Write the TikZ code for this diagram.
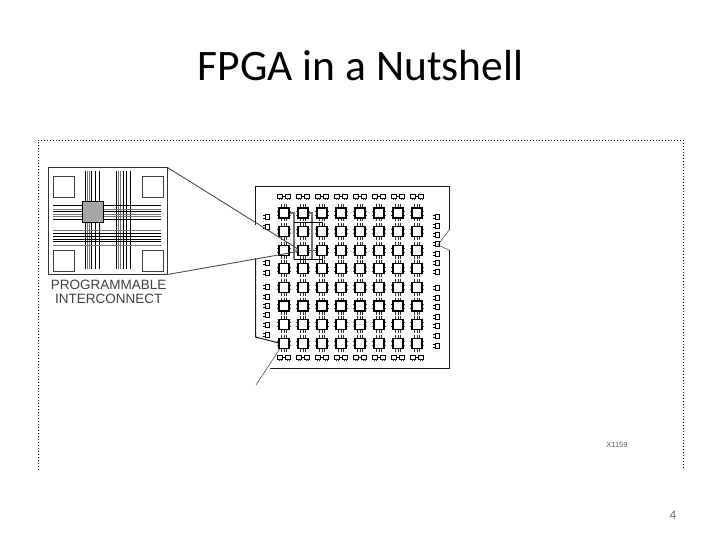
\documentclass[tikz,border=0pt]{standalone}
\usepackage{fontspec}
\setmainfont{Carlito}
\newfontfamily\labelfont{Liberation Sans}
\definecolor{wiregray}{gray}{0.45}
\tikzset{
  frameline/.style={line width=0.9pt, dash pattern=on 1.3pt off 1.7pt},
  outline/.style={line width=1pt, black!90},
  leader/.style={line width=0.9pt, black!70},
  cornerbox/.style={draw=black!75, line width=0.9pt, minimum size=21pt, inner sep=0pt},
  clbbox/.style={draw, line width=1.1pt, fill=white, minimum size=10pt, inner sep=0pt},
  route/.style={line width=1.2pt, wiregray},
  routeb/.style={line width=1pt, black},
  pics/clbpins/.style={code={
    \foreach \d in {-2.4,0,2.4} {
      \draw[line width=0.8pt, black!80] (\d,-8.5) -- (\d,-5);
      \draw[line width=0.8pt, black!80] (\d,5) -- (\d,8.5);
    }
    \draw[line width=0.6pt, black!70] (-7,-2) -- (-5,-2) (-7,2) -- (-5,2);
    \draw[line width=0.6pt, black!70] (5,-2) -- (7,-2) (5,2) -- (7,2);
  }},
  pics/iobpair/.style={code={
    \draw[line width=1pt] (-6.5,-2.4) rectangle (-1.5,1.2);
    \draw[line width=1pt] (1.5,-2.4) rectangle (6.5,1.2);
    \draw[line width=1pt] (-1.5,-0.5) -- (1.5,-0.5);
    \draw[line width=0.6pt, black!80] (-5,1.2) -- (-5,3.2) (-3,1.2) -- (-3,3.2) (3,1.2) -- (3,3.2) (5,1.2) -- (5,3.2);
  }},
  pics/iobside/.style={code={
    \draw[line width=1pt] (-0.8,-2.2) rectangle (2.6,2.2);
    \draw[line width=1.2pt] (-0.8,-3.4) -- (-0.8,3.4);
    \draw[line width=0.7pt] (-3.2,-1.2) -- (-0.8,-1.2) (-3.2,1.2) -- (-0.8,1.2);
  }},
}
\begin{document}
\begin{tikzpicture}[x=1pt, y=-1pt]
  \useasboundingbox (0,0) rectangle (720,540);
  \node[font=\fontsize{43.5}{46}\selectfont] (title) at (360.5,66) {FPGA in a Nutshell};
  % Dotted frame, open at the bottom
  \coordinate (frameA) at (38,470);
  \coordinate (frameB) at (38,140);
  \coordinate (frameC) at (683,140);
  \coordinate (frameD) at (683,470);
  \draw[frameline] (frameA) -- (frameB) -- (frameC) -- (frameD);
  % Interconnect inset
  \node[draw=black!80, line width=1pt, minimum width=119pt, minimum height=106pt, inner sep=0pt] (inset) at (107.5,221) {};
  \foreach \x/\c in {85/black,87.3/wiregray,89.3/wiregray,91.3/black,95.3/black,99.7/black,
                     116/black,118.3/wiregray,120.3/wiregray,123/black,126.3/black,130.7/black} {
    \draw[line width=0.8pt, \c] (\x,171) -- (\x,269);
  }
  \foreach \y/\c in {205/black,209.3/wiregray,211.7/black,214/wiregray,216.7/wiregray,219/black,
                     230.3/wiregray,233.3/black,236/black,239/black,241.7/black,245/wiregray} {
    \draw[line width=0.8pt, \c] (53,\y) -- (161,\y);
  }
  \foreach \n/\x/\y in {nw/64/186.5,ne/153/186.5,sw/64/261,se/153/261} {
    \node[cornerbox] (corner\n) at (\x,\y) {};
  }
  \node[draw, line width=1pt, fill=black!35, minimum size=21pt, inner sep=0pt] (switch) at (92.5,212.5) {};
  \node[font=\labelfont\fontsize{13.5}{14.2}\selectfont, text=black!75, align=center, inner sep=0pt] (prog) at (108.7,291.5) {PROGRAMMABLE\\INTERCONNECT};
  % Chip outline
  \coordinate (chipA) at (255.5,225);
  \coordinate (chipB) at (255.5,187);
  \coordinate (chipC) at (449,187);
  \coordinate (chipD) at (449,230);
  \coordinate (chipE) at (438,245);
  \coordinate (chipF) at (449,250);
  \coordinate (chipG) at (449,368);
  \coordinate (chipH) at (270,368);
  \coordinate (chipI) at (255.5,258);
  \coordinate (chipJ) at (255.5,337);
  \coordinate (chipK) at (283,344);
  \coordinate (chipL) at (256,385);
  \draw[outline] (chipA) -- (chipB) -- (chipC) -- (chipD);
  \draw[line width=0.6pt, black!70] (chipD) -- (chipE) -- (chipF);
  \draw[outline] (chipF) -- (chipG) -- (chipH);
  \draw[outline] (chipI) -- (chipJ) -- (chipK);
  \draw[line width=0.7pt, black!60] (chipK) -- (chipL);
  % Logic blocks
  \foreach \c [evaluate=\c as \x using {284+19*(\c-1)}] in {1,...,8} {
    \foreach \r [evaluate=\r as \y using {213+18.6*(\r-1)}] in {1,...,8} {
      \pic at (\x,\y) {clbpins};
      \node[clbbox] (clb\c\r) at (\x,\y) {};
    }
    \pic at (\x,197) {iobpair};
    \pic at (\x,358) {iobpair};
  }
  % IO blocks on the sides
  \foreach \y in {217,227,263,273,287,297,306,315,325,335} {
    \pic at (266.5,\y) {iobside};
  }
  \foreach \y in {217,226,235,244,254,263,272,288,298,307,317,326,336,346} {
    \pic at (436.5,\y) {iobside};
  }
  % Routing around the block
  \coordinate (routeL) at (294,259);
  \coordinate (routeR) at (312,259);
  \coordinate (routeT) at (294,223);
  \draw[route] (clb11.east) -| (routeL);
  \draw[route] (clb21.east) -| (routeR);
  \draw[route] (clb23.east) -- (clb33.west);
  \draw[route] (clb23.west) -- (294,250);
  \draw[routeb] (routeT) -| (clb32.north);
  \draw[routeb] (routeL) -| (clb34.north);
  % Leaders from the inset
  \coordinate (tipA) at (298,249);
  \coordinate (tipB) at (298,251.5);
  \draw[leader] (inset.north east) -- (tipA);
  \draw[leader] (inset.south east) -- (tipB);
  \node[font=\labelfont\fontsize{7.5}{9}\selectfont, text=black!65, inner sep=0pt] (partno) at (617,445) {X1159};
  \node[font=\fontsize{13}{15}\selectfont, text=black!60, inner sep=0pt] (pagenum) at (673,515) {4};
\end{tikzpicture}
\end{document}
